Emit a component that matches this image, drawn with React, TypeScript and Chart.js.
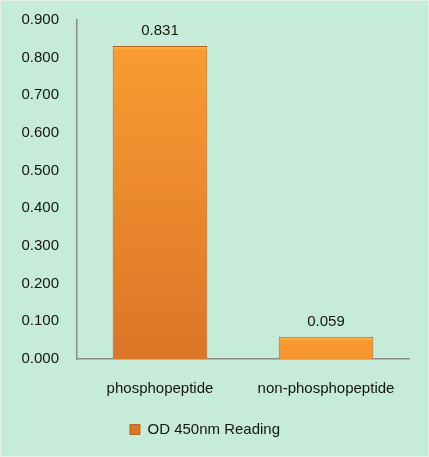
import { useEffect, useRef } from 'react';
import { Chart, registerables } from 'chart.js';

Chart.register(...registerables);

const categories = ['phosphopeptide', 'non-phosphopeptide'];
const readings = [0.831, 0.059];
const seriesName = 'OD 450nm Reading';

const FONT = "'Liberation Sans', Arial, sans-serif";

function mix(a: number[], b: number[], t: number) {
  const c = a.map((v, i) => Math.round(v + (b[i] - v) * t));
  return `rgb(${c[0]}, ${c[1]}, ${c[2]})`;
}

const valueLabels = {
  id: 'valueLabels',
  afterDatasetsDraw(chart: any) {
    const ctx = chart.ctx;
    const meta = chart.getDatasetMeta(0);
    ctx.save();
    ctx.font = `15px ${FONT}`;
    ctx.fillStyle = '#141414';
    ctx.textAlign = 'center';
    ctx.textBaseline = 'middle';
    meta.data.forEach((bar: any, i: number) => {
      ctx.fillText(readings[i].toFixed(3), bar.x, bar.y - 15);
    });
    ctx.restore();
  },
};

export default function App() {
  const chartRef = useRef<HTMLCanvasElement>(null);
  const chartInstance = useRef<Chart | null>(null);

  useEffect(() => {
    document.body.style.margin = '0';
    if (!chartRef.current) return;
    if (chartInstance.current) chartInstance.current.destroy();
    const ctx = chartRef.current.getContext('2d');
    if (!ctx) return;

    chartInstance.current = new Chart(ctx, {
      type: 'bar',
      data: {
        labels: categories,
        datasets: [
          {
            label: seriesName,
            data: readings,
            backgroundColor: (c: any) => {
              const chart = c.chart;
              if (c.type !== 'data' || !chart.chartArea) return '#F08A2C';
              const y = chart.scales.y;
              const top = y.getPixelForValue(c.parsed.y);
              const bottom = y.getPixelForValue(0);
              const h = Math.max(bottom - top, 1);
              const t = h / (chart.chartArea.bottom - chart.chartArea.top);
              const g = chart.ctx.createLinearGradient(0, top, 0, bottom);
              g.addColorStop(0, '#FDC05A');
              g.addColorStop(Math.min(4 / h, 0.3), '#F99B32');
              g.addColorStop(1, mix([247, 150, 47], [218, 114, 39], t));
              return g;
            },
            borderColor: '#B4621F',
            borderWidth: 1,
            barPercentage: 0.57,
            categoryPercentage: 1,
          },
        ],
      },
      options: {
        responsive: true,
        maintainAspectRatio: false,
        animation: false,
        layout: { padding: { top: 19, right: 19, bottom: 9, left: 0 } },
        plugins: {
          legend: {
            position: 'bottom',
            labels: {
              color: '#141414',
              font: { family: FONT, size: 15 },
              boxWidth: 10,
              boxHeight: 10,
              padding: 10,
            },
          },
          tooltip: { enabled: false },
        },
        scales: {
          x: {
            grid: { display: false, drawTicks: false },
            border: { color: '#8c8c8c', width: 1.5 },
            ticks: {
              color: '#141414',
              font: { family: FONT, size: 15 },
              padding: 21,
            },
            afterFit: (s: any) => {
              s.height = 53;
            },
          },
          y: {
            min: 0,
            max: 0.9,
            grid: { display: false, drawTicks: false },
            border: { color: '#8c8c8c', width: 1.5 },
            ticks: {
              stepSize: 0.1,
              color: '#141414',
              font: { family: FONT, size: 15 },
              padding: 18,
              callback: (v: any) => Number(v).toFixed(3),
            },
            afterFit: (s: any) => {
              s.width = 76;
              s.paddingTop = 0;
              s.paddingBottom = 0;
            },
          },
        },
      },
      plugins: [valueLabels],
    });

    return () => {
      if (chartInstance.current) {
        chartInstance.current.destroy();
        chartInstance.current = null;
      }
    };
  }, []);

  return (
    <div
      style={{
        width: 427,
        height: 455,
        border: '1px solid #e4f0e9',
        background: '#c6ebd8',
      }}
    >
      <canvas ref={chartRef} />
    </div>
  );
}
